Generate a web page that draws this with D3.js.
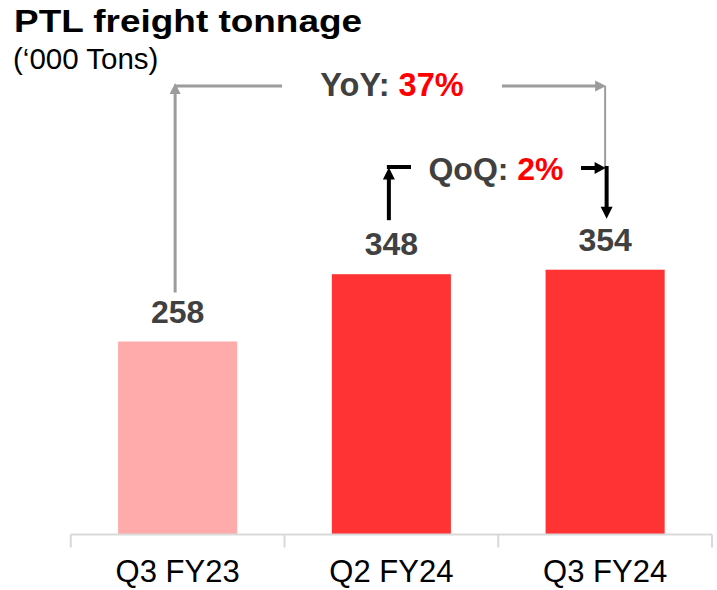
<!DOCTYPE html>
<html>
<head>
<meta charset="utf-8">
<script src="https://cdn.jsdelivr.net/npm/d3@7"></script>
<style>
  html, body { margin: 0; padding: 0; background: #fff; }
  svg { display: block; font-family: "Liberation Sans", Arial, Helvetica, sans-serif; }
</style>
</head>
<body>
<svg id="chart" width="717" height="590"></svg>
<script>
const categories = ["Q3 FY23", "Q2 FY24", "Q3 FY24"];
const values = [258, 348, 354];
const barColors = ["#FFABAB", "#FF3333", "#FF3333"];
const titleText = "PTL freight tonnage";
const subtitleText = "(\u2018000 Tons)";
const yoyLabel = "YoY: ";
const yoyValue = "37%";
const qoqLabel = "QoQ: ";
const qoqValue = "2%";

const svg = d3.select("#chart");

const x = d3.scaleBand().domain(categories).range([70.75, 712]).paddingInner(0.443).paddingOuter(0.2215);
const y = d3.scaleLinear().domain([0, 400]).range([534.5, 534.5 - 0.748 * 400]);

// Title
svg.append("text").attr("x", 14).attr("y", 32)
  .attr("font-size", 32).attr("font-weight", "bold").attr("fill", "#000")
  .attr("textLength", 348).attr("lengthAdjust", "spacingAndGlyphs")
  .text(titleText);
svg.append("text").attr("x", 13).attr("y", 69)
  .attr("font-size", 29.5).attr("fill", "#000")
  .text(subtitleText);

// Bars
svg.selectAll("rect.bar").data(values).join("rect")
  .attr("class", "bar")
  .attr("x", (d, i) => x(categories[i]))
  .attr("width", x.bandwidth())
  .attr("y", d => y(d))
  .attr("height", d => y(0) - y(d))
  .attr("fill", (d, i) => barColors[i]);

// Value labels
svg.selectAll("text.val").data(values).join("text")
  .attr("class", "val")
  .attr("x", (d, i) => x(categories[i]) + x.bandwidth() / 2)
  .attr("y", d => y(d) - 19)
  .attr("text-anchor", "middle")
  .attr("font-size", 32).attr("font-weight", "bold").attr("fill", "#404040")
  .text(d => d);

// Axis
const axis = d3.axisBottom(x).tickSize(0).tickPadding(0);
const gx = svg.append("g").attr("transform", `translate(0,${y(0)})`).call(axis);
gx.select(".domain").remove();
gx.selectAll(".tick text").remove();
const edges = [x.range()[0]].concat(categories.map(c => x(c) + x.bandwidth() + x.step() * x.paddingInner() / 2));
edges[edges.length - 1] = x.range()[1];
gx.append("line").attr("x1", edges[0]).attr("x2", edges[edges.length - 1]).attr("y1", 0).attr("y2", 0)
  .attr("stroke", "#D9D9D9").attr("stroke-width", 2);
gx.selectAll("line.edge").data(edges).join("line").attr("class", "edge")
  .attr("x1", d => d).attr("x2", d => d).attr("y1", 0).attr("y2", 13)
  .attr("stroke", "#D9D9D9").attr("stroke-width", 2);
svg.selectAll("text.cat").data(categories).join("text").attr("class", "cat")
  .attr("x", d => x(d) + x.bandwidth() / 2)
  .attr("y", 582)
  .attr("text-anchor", "middle")
  .attr("font-size", 31).attr("fill", "#000")
  .text(d => d);

// Arrowhead helper
function arrowHead(g, tx, ty, dir, len, half, color) {
  let pts;
  if (dir === "up") pts = [[tx, ty], [tx - half, ty + len], [tx + half, ty + len]];
  else if (dir === "down") pts = [[tx, ty], [tx - half, ty - len], [tx + half, ty - len]];
  else if (dir === "right") pts = [[tx, ty], [tx - len, ty - half], [tx - len, ty + half]];
  g.append("path").attr("d", "M" + pts.map(p => p.join(",")).join("L") + "Z").attr("fill", color);
}
function seg(g, x1, y1, x2, y2, color, w) {
  g.append("line").attr("x1", x1).attr("y1", y1).attr("x2", x2).attr("y2", y2)
    .attr("stroke", color).attr("stroke-width", w);
}

const cx = i => x(categories[i]) + x.bandwidth() / 2;

// YoY annotation (grey)
const grey = "#9C9C9C";
const ann = svg.append("g");
const yoyY = 86;
const lx = cx(0) - 2.5, rx = cx(2);
seg(ann, lx, y(values[0]) - 49, lx, yoyY + 8, grey, 3);
arrowHead(ann, lx, yoyY - 3, "up", 11, 5.5, grey);
seg(ann, lx, yoyY, 282, yoyY, grey, 3);
seg(ann, 502, yoyY, rx - 8, yoyY, grey, 3);
arrowHead(ann, rx + 1, yoyY, "right", 11, 5.5, grey);
seg(ann, rx, yoyY, rx, 168, grey, 2);

const yoyT = ann.append("text").attr("x", 392).attr("y", 96).attr("text-anchor", "middle")
  .attr("font-size", 32.5).attr("font-weight", "bold");
yoyT.append("tspan").attr("fill", "#404040").text(yoyLabel);
yoyT.append("tspan").attr("fill", "#FF0000").text(yoyValue);

// QoQ annotation (black)
const blk = "#000";
const qx1 = cx(1) - 2.5, qx2 = cx(2) + 1.5;
const qoqY = 167.5;
seg(ann, qx1, y(values[1]) - 54, qx1, qoqY + 10, blk, 4);
arrowHead(ann, qx1, qoqY, "up", 12, 6, blk);
seg(ann, qx1 - 2, qoqY - 0.5, 411, qoqY - 0.5, blk, 4);
seg(ann, 581, qoqY + 0.5, qx2 - 10, qoqY + 0.5, blk, 4);
arrowHead(ann, qx2 - 1, qoqY + 0.5, "right", 11, 6, blk);
seg(ann, qx2, qoqY - 1.5, qx2, y(values[2]) - 62, blk, 4);
arrowHead(ann, qx2, y(values[2]) - 51, "down", 12, 6, blk);

const qoqT = ann.append("text").attr("x", 496).attr("y", 179.5).attr("text-anchor", "middle")
  .attr("font-size", 32).attr("font-weight", "bold");
qoqT.append("tspan").attr("fill", "#404040").text(qoqLabel);
qoqT.append("tspan").attr("fill", "#FF0000").text(qoqValue);
</script>
</body>
</html>
